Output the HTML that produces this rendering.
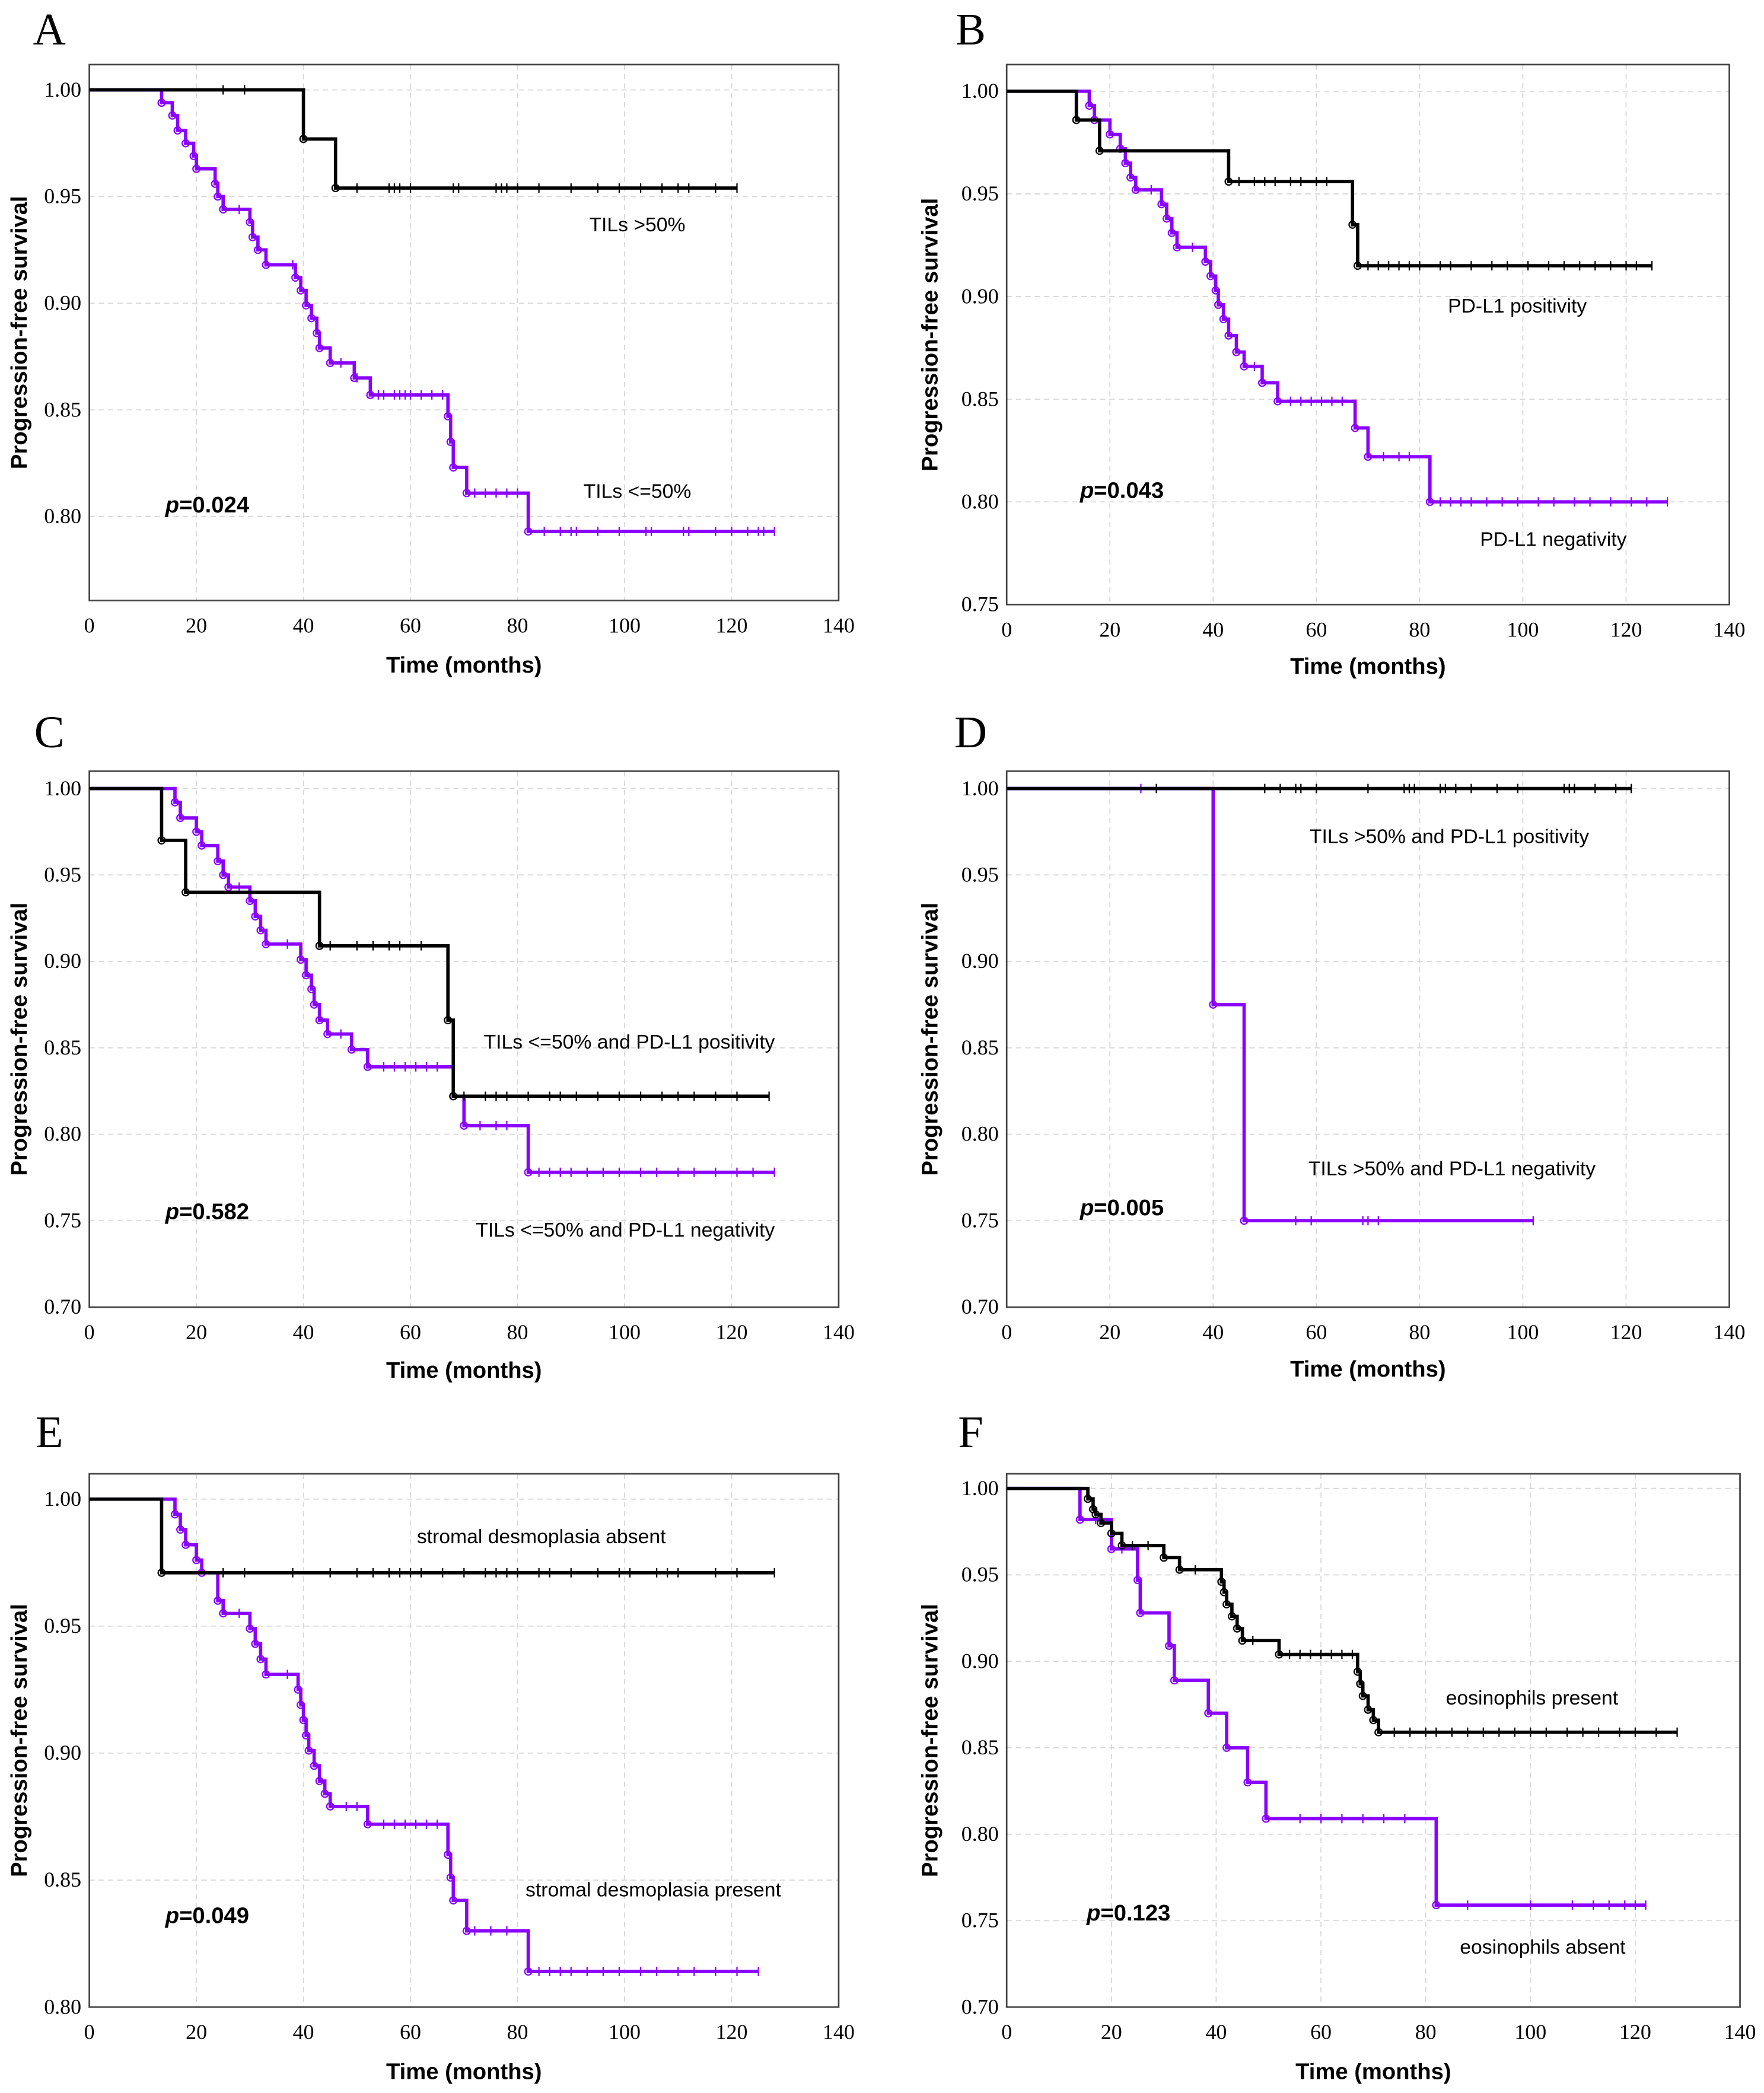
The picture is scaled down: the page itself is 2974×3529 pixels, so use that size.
<!DOCTYPE html>
<html><head><meta charset="utf-8"><style>
html,body{margin:0;padding:0;background:#fff}
svg{display:block}
.tick{font-family:"Liberation Serif",serif;font-size:16px;fill:#000}
.lbl{font-family:"Liberation Serif",serif;font-size:34px;fill:#000}
.ttl{font-family:"Liberation Sans",sans-serif;font-size:17px;font-weight:bold;fill:#000}
.ann{font-family:"Liberation Sans",sans-serif;font-size:15px;fill:#000}
.pv{font-family:"Liberation Sans",sans-serif;font-size:17px;font-weight:bold;fill:#000}
</style></head><body>
<svg id="fig" width="2974" height="3529" viewBox="0 0 1323 1569" xmlns="http://www.w3.org/2000/svg"></svg>
<script>
// ---- data (months, survival) ----
const A_black_t=[40,46], A_black_s=[0.977,0.954], A_black_end=121;
const A_black_c=[25,29,50,56,57,58,60,68,69,76,77,78,80,84,90,95,99,103,107,110,112,117];
const A_purple_t=[13.5,15.5,16.5,18,19.5,20,23.5,24,25,30,30.5,31.5,33,38.5,39.5,40.5,41.5,42.5,43,45,49.5,52.5,67,67.5,68,70.5,82];
const A_purple_s=[0.994,0.988,0.981,0.975,0.969,0.963,0.956,0.95,0.944,0.938,0.931,0.925,0.918,0.912,0.906,0.899,0.893,0.886,0.879,0.872,0.865,0.857,0.847,0.835,0.823,0.811,0.793];
const A_purple_end=128;
const A_purple_c=[28,38,47,50,54,55,57,58,59,60,62,64,66,72,74,76,78,80,85,88,90,91,95,99,104,105,111,112,117,120,123,125,126];

const B_black_t=[13.5,18,43,67,68], B_black_s=[0.986,0.971,0.956,0.935,0.915], B_black_end=125;
const B_black_c=[45,48,50,52,55,57,60,62,70,72,74,76,78,80,84,86,90,94,97,101,105,108,111,114,117,120,122];
const B_purple_t=[16,17,20,22,23,24,25,30,31,32,33,38.5,39.5,40.5,41,42,43,44.5,46,49.5,52.5,67.5,70,82];
const B_purple_s=[0.993,0.986,0.979,0.972,0.965,0.958,0.952,0.945,0.938,0.931,0.924,0.917,0.91,0.903,0.896,0.889,0.881,0.873,0.866,0.858,0.849,0.836,0.822,0.8];
const B_purple_end=128;
const B_purple_c=[28,36,48,55,57,59,61,63,65,73,76,78,84,86,88,90,93,96,99,103,106,110,113,117,121,124];

const C_black_t=[13.5,18,43,67,68], C_black_s=[0.97,0.94,0.909,0.866,0.822], C_black_end=127;
const C_black_c=[45,50,53,56,58,62,70,74,76,78,82,86,88,91,95,99,103,107,110,113,117,121];
const C_purple_t=[16,17,20,21,24,25,26,30,31,32,33,39.5,40.5,41.5,42,43,44.5,49,52,68,70,82];
const C_purple_s=[0.992,0.983,0.975,0.967,0.958,0.95,0.943,0.935,0.926,0.918,0.91,0.901,0.892,0.884,0.875,0.866,0.858,0.849,0.839,0.822,0.805,0.778];
const C_purple_end=128;
const C_purple_c=[28,37,47,55,57,59,61,63,65,73,76,78,84,86,88,90,93,96,99,103,106,110,113,117,121,124];

const D_black_t=[], D_black_s=[], D_black_end=121;
const D_black_c=[29,50,53,56,57,60,70,77,78,79,84,85,87,90,95,99,108,109,110,114,118];
const D_purple_t=[40,46], D_purple_s=[0.875,0.75], D_purple_end=102;
const D_purple_c=[26,56,59,69,70,72];

const E_black_t=[13.5], E_black_s=[0.971], E_black_end=128;
const E_black_c=[25,29,38,45,50,53,56,58,60,62,66,70,74,76,78,80,84,86,90,95,99,101,106,108,110,117,121];
const E_purple_t=[16,17,18,20,21,24,25,30,31,32,33,39,39.5,40,40.5,41,42,43,44,45,52,67,67.5,68,70.5,82];
const E_purple_s=[0.994,0.988,0.982,0.976,0.971,0.96,0.955,0.949,0.943,0.937,0.931,0.925,0.919,0.913,0.907,0.901,0.895,0.889,0.884,0.879,0.872,0.86,0.851,0.842,0.83,0.814];
const E_purple_end=125;
const E_purple_c=[28,37,48,50,55,57,59,61,63,65,72,75,78,84,86,88,90,93,96,99,103,106,110,113,117,121];

const F_black_t=[15.5,16.5,17,18,20,22,30,33,41,41.5,42,43,44,45,52,67,67.5,68,69,70,71];
const F_black_s=[0.994,0.988,0.985,0.98,0.974,0.967,0.96,0.953,0.946,0.94,0.933,0.926,0.919,0.912,0.904,0.894,0.887,0.88,0.872,0.866,0.859];
const F_black_end=128;
const F_black_c=[24,27,36,47,54,56,58,60,62,64,66,74,77,80,82,85,88,91,94,97,100,103,107,110,113,117,120,124];
const F_purple_t=[14,20,25,25.5,31,32,38.5,42,46,49.5,82], F_purple_s=[0.982,0.965,0.947,0.928,0.909,0.889,0.87,0.85,0.83,0.809,0.759];
const F_purple_end=122;
const F_purple_c=[17,22,56,60,64,68,72,76,88,100,108,112,115,118,120];

const xTicks=[0,20,40,60,80,100,120,140];
const yTicksA=[0.80,0.85,0.90,0.95,1.00];
const yTicksB=[0.75,0.80,0.85,0.90,0.95,1.00];
const yTicksC=[0.70,0.75,0.80,0.85,0.90,0.95,1.00];
const yTicksE=[0.80,0.85,0.90,0.95,1.00];

const NS="http://www.w3.org/2000/svg";
const svg=document.getElementById('fig');
function mk(tag,attrs,parent){const e=document.createElementNS(NS,tag);for(const k in attrs)e.setAttribute(k,attrs[k]);(parent||svg).appendChild(e);return e;}

const panels=[
 {id:'a',L:'A',lx:37,ly:33,x0:67,x1:629,yt:48,yb:450,y1:67,lowV:0.80,lowP:387,yt_:yTicksA,
  bt:A_black_t,bs:A_black_s,be:A_black_end,bc:A_black_c,pt:A_purple_t,ps:A_purple_s,pe:A_purple_end,pc:A_purple_c,
  ann:[["TILs >50%",478,173],["TILs <=50%",478,373]],p:["0.024",124,384],ylx:20,xly:504},
 {id:'b',L:'B',lx:728,ly:33,x0:755,x1:1297,yt:48,yb:453,y1:68,lowV:0.75,lowP:453,yt_:yTicksB,
  bt:B_black_t,bs:B_black_s,be:B_black_end,bc:B_black_c,pt:B_purple_t,ps:B_purple_s,pe:B_purple_end,pc:B_purple_c,
  ann:[["PD-L1 positivity",1138,234],["PD-L1 negativity",1165,409]],p:["0.043",810,373],ylx:703,xly:505},
 {id:'c',L:'C',lx:37,ly:560,x0:67,x1:629,yt:578,yb:980,y1:591,lowV:0.70,lowP:980,yt_:yTicksC,
  bt:C_black_t,bs:C_black_s,be:C_black_end,bc:C_black_c,pt:C_purple_t,ps:C_purple_s,pe:C_purple_end,pc:C_purple_c,
  ann:[["TILs <=50% and PD-L1 positivity",472,786],["TILs <=50% and PD-L1 negativity",469,927]],p:["0.582",124,914],ylx:20,xly:1033},
 {id:'d',L:'D',lx:728,ly:560,x0:755,x1:1297,yt:578,yb:980,y1:591,lowV:0.70,lowP:980,yt_:yTicksC,
  bt:D_black_t,bs:D_black_s,be:D_black_end,bc:D_black_c,pt:D_purple_t,ps:D_purple_s,pe:D_purple_end,pc:D_purple_c,
  ann:[["TILs >50% and PD-L1 positivity",1087,632],["TILs >50% and PD-L1 negativity",1089,881]],p:["0.005",810,911],ylx:703,xly:1032},
 {id:'e',L:'E',lx:37,ly:1085,x0:67,x1:629,yt:1105,yb:1505,y1:1124,lowV:0.80,lowP:1505,yt_:yTicksE,
  bt:E_black_t,bs:E_black_s,be:E_black_end,bc:E_black_c,pt:E_purple_t,ps:E_purple_s,pe:E_purple_end,pc:E_purple_c,
  ann:[["stromal desmoplasia absent",406,1157],["stromal desmoplasia present",490,1422]],p:["0.049",124,1442],ylx:20,xly:1559},
 {id:'f',L:'F',lx:728,ly:1085,x0:755,x1:1305,yt:1105,yb:1505,y1:1116,lowV:0.70,lowP:1505,yt_:yTicksC,
  bt:F_black_t,bs:F_black_s,be:F_black_end,bc:F_black_c,pt:F_purple_t,ps:F_purple_s,pe:F_purple_end,pc:F_purple_c,
  ann:[["eosinophils present",1149,1278],["eosinophils absent",1157,1465]],p:["0.123",815,1440],ylx:703,xly:1559}
];

function drawCurve(g,X,Y,ts,ss,end,cens,color,w){
  let d='M'+X(0)+','+Y(1);
  for(let i=0;i<ts.length;i++){d+=' H'+X(ts[i])+' V'+Y(ss[i]);}
  d+=' H'+X(end);
  const p=mk('path',{d:d,fill:'none',stroke:color,'stroke-width':w},g);
  
  
  for(let i=0;i<ts.length;i++){
    const c=mk('circle',{cx:X(ts[i]),cy:Y(ss[i]),r:2.6,fill:'none',stroke:color,'stroke-width':1},g);
    
    
  }
  function sAt(t){let v=1;for(let i=0;i<ts.length;i++){if(ts[i]<=t)v=ss[i];}return v;}
  cens.concat([end]).forEach(t=>{
    if(t>end)return;
    const yy=Y(sAt(t));
    const l=mk('line',{x1:X(t),x2:X(t),y1:yy-3.5,y2:yy+3.5,stroke:color,'stroke-width':1},g);
    
    
  });
}

panels.forEach(P=>{
  const g=mk('g',{});
  
  
  const X=t=>P.x0+(P.x1-P.x0)*t/140;
  const Y=v=>P.y1+(1-v)*(P.lowP-P.y1)/(1-P.lowV);
  const lab=mk('text',{x:P.lx,y:P.ly,'text-anchor':'middle',class:'lbl'},g);lab.textContent=P.L;
  
  xTicks.forEach(t=>{
    if(t>0&&t<140){const l=mk('line',{x1:X(t),x2:X(t),y1:P.yt,y2:P.yb,stroke:'#d8d8d8','stroke-width':0.8,'stroke-dasharray':'4,3'},g);
    }
    const tx=mk('text',{x:X(t),y:P.yb+24,'text-anchor':'middle',class:'tick'},g);tx.textContent=t;
    
  });
  P.yt_.forEach(v=>{
    const yy=Y(v);
    if(yy>P.yt+1&&yy<P.yb-1){const l=mk('line',{x1:P.x0,x2:P.x1,y1:yy,y2:yy,stroke:'#d8d8d8','stroke-width':0.8,'stroke-dasharray':'4,3'},g);
    }
    const tx=mk('text',{x:P.x0-6,y:yy+5,'text-anchor':'end',class:'tick'},g);tx.textContent=v.toFixed(2);
    
  });
  const box=mk('rect',{x:P.x0,y:P.yt,width:P.x1-P.x0,height:P.yb-P.yt,fill:'none',stroke:'#444','stroke-width':1.2},g);
  
  drawCurve(g,X,Y,P.pt,P.ps,P.pe,P.pc,'#8a00ff',2.5);
  drawCurve(g,X,Y,P.bt,P.bs,P.be,P.bc,'#000',2.5);
  P.ann.forEach(a=>{const t=mk('text',{x:a[1],y:a[2],'text-anchor':'middle',class:'ann'},g);t.textContent=a[0];
    });
  const pv=mk('text',{x:P.p[1],y:P.p[2],class:'pv'},g);
  
  const it=mk('tspan',{'font-style':'italic'},pv);it.textContent='p';
  const rest=mk('tspan',{},pv);rest.textContent='='+P.p[0];
  const xl=mk('text',{x:(P.x0+P.x1)/2,y:P.xly,'text-anchor':'middle',class:'ttl'},g);xl.textContent='Time (months)';
  
  const yc=(P.yt+P.yb)/2;
  const yl=mk('text',{x:P.ylx,y:yc,'text-anchor':'middle',class:'ttl',transform:'rotate(-90 '+P.ylx+' '+yc+')'},g);
  yl.textContent='Progression-free survival';
  
});
</script>
</body></html>
